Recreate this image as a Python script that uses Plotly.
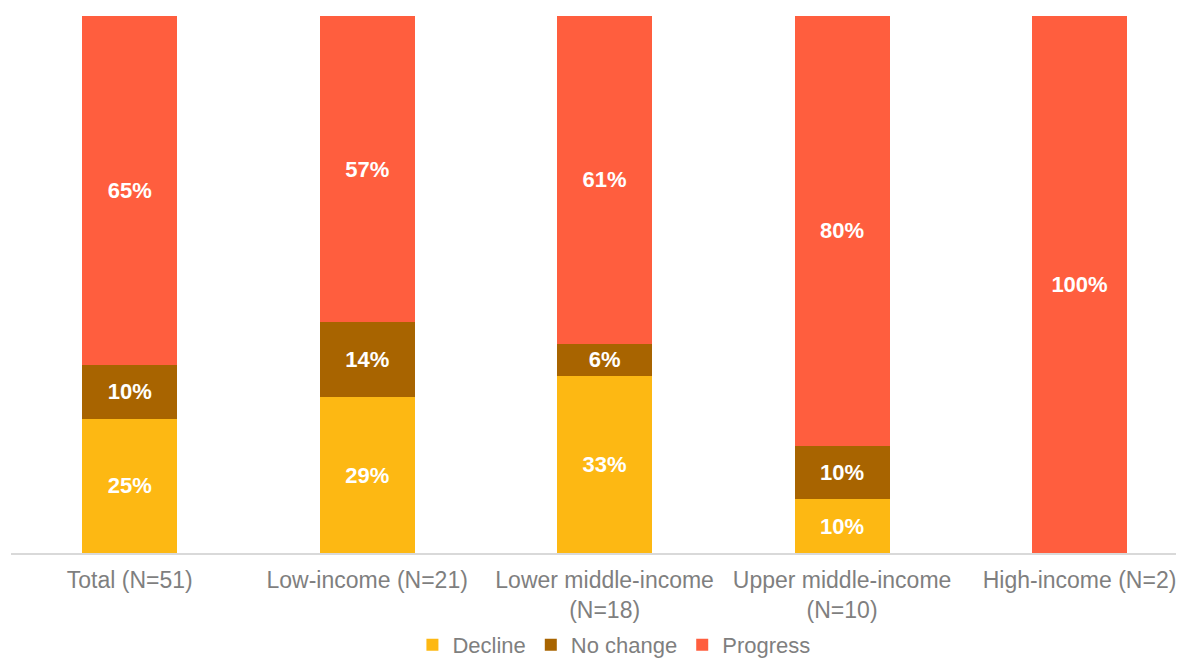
import plotly.graph_objects as go

categories = ["Total (N=51)", "Low-income (N=21)", "Lower middle-income<br>(N=18)",
              "Upper middle-income<br>(N=10)", "High-income (N=2)"]
decline = [25, 29, 33, 10, 0]
no_change = [10, 14, 6, 10, 0]
progress = [65, 57, 61, 80, 100]

series = [("Decline", decline, "#FDB813"),
          ("No change", no_change, "#A86400"),
          ("Progress", progress, "#FF5E3E")]

fig = go.Figure()
for name, vals, color in series:
    fig.add_trace(go.Bar(
        x=categories, y=vals, name=name,
        marker=dict(color=color, line=dict(width=0)),
        text=[f"{v}%" if v > 0 else "" for v in vals],
        textposition="inside", insidetextanchor="middle",
        textfont=dict(family="Liberation Sans", size=22, color="white", weight="bold"),
        width=0.4,
    ))

# page body has an 8px margin, so the figure is sized and offset for it
fig.update_layout(
    barmode="stack",
    width=1176, height=653,
    margin=dict(l=3, r=0, t=8, b=108, autoexpand=False),
    plot_bgcolor="white", paper_bgcolor="white",
    font=dict(family="Liberation Sans", size=22, color="#7F7F7F"),
    legend=dict(orientation="h", x=0.514, xanchor="center", y=-0.132, yanchor="top",
                font=dict(size=22, color="#7F7F7F"), traceorder="normal",
                itemwidth=30),
    showlegend=True,
)
fig.update_xaxes(range=[-0.5, 4.44], showline=True, linecolor="#D9D9D9", linewidth=1.5,
                 ticks="", automargin=False, ticklabelstandoff=6,
                 tickfont=dict(size=23, color="#7F7F7F"))
fig.update_yaxes(range=[0, 100], visible=False)

fig.write_html("out.html")
